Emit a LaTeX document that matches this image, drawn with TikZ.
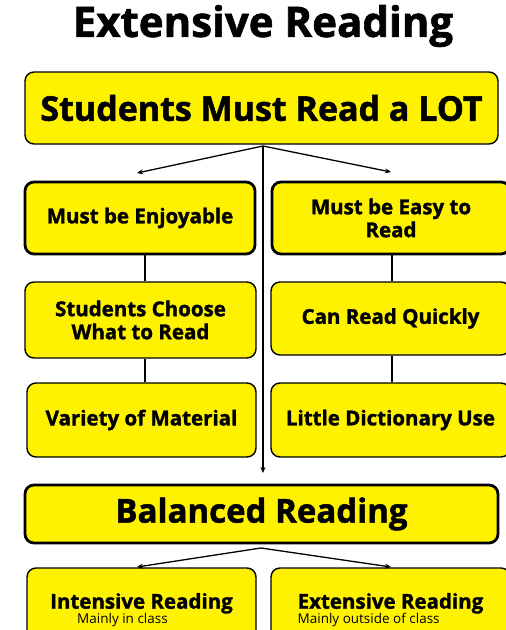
\documentclass[tikz,border=0pt]{standalone}
\usepackage{fontspec}
\setmainfont{Open Sans}[BoldFeatures={FakeBold=1.5}]
\usepackage{tikz}
\usetikzlibrary{arrows.meta}

\begin{document}
\begin{tikzpicture}[x=1pt, y=-1pt, inner sep=2pt]
    \useasboundingbox (0,0) rectangle (506,630);

    \tikzstyle{myBox}=[draw, fill=yellow, rounded corners=9pt, line width=1.4pt, align=center, font=\bfseries\fontsize{20.5}{23}\selectfont];
    \tikzstyle{myBold}=[myBox, line width=2.8pt];
    \tikzstyle{myArr}=[line width=1.3pt, -{Stealth[length=6pt, width=5pt]}];

    \node[font=\bfseries\fontsize{42}{44}\selectfont] (title) at (263,26) {Extensive Reading};

    \node[myBox, minimum width=473, minimum height=72, font=\bfseries\fontsize{34}{36}\selectfont] (top) at (261.5,108) {Students Must Read a LOT};

    \node[myBold, minimum width=230, minimum height=72] (enj) at (140,218) {Must be Enjoyable};
    \node[myBold, minimum width=238, minimum height=72] (easy) at (391,218) {Must be Easy to\\Read};
    \node[myBox, minimum width=231, minimum height=76] (choose) at (140.5,320) {Students Choose\\What to Read};
    \node[myBox, minimum width=239, minimum height=73] (quick) at (390.5,318.5) {Can Read Quickly};
    \node[myBox, minimum width=229, minimum height=74] (variety) at (141.5,420) {Variety of Material};
    \node[myBox, minimum width=239, minimum height=74] (dict) at (390.5,420) {Little Dictionary Use};

    \node[myBold, minimum width=473, minimum height=58, font=\bfseries\fontsize{33}{36}\selectfont] (bal) at (261.5,514) {Balanced Reading};

    \node[myBox, minimum width=229, minimum height=84, align=left] (intens) at (141.5,610) {Intensive Reading\\[-8pt]{\mdseries\fontsize{13.5}{15}\selectfont\qquad Mainly in class}};
    \node[myBox, minimum width=239, minimum height=84, align=left] (extens) at (390.5,610) {Extensive Reading\\[-8pt]{\mdseries\fontsize{13.5}{15}\selectfont Mainly outside of class}};

    % forks
    \coordinate (topfork) at (263,146);
    \coordinate (enjtip) at (137,173);
    \coordinate (easytip) at (391,172);
    \coordinate (baltip) at (263,473);
    \coordinate (balfork) at (261,548);
    \coordinate (intip) at (137,567);
    \coordinate (extip) at (391,567);

    \draw[myArr] (topfork) -- (enjtip);
    \draw[myArr] (topfork) -- (easytip);
    \draw[myArr] (topfork) -- (baltip);
    \draw[myArr] (balfork) -- (intip);
    \draw[myArr] (balfork) -- (extip);

    \draw[line width=1.3pt] (enj.south -| 145,0) -- (choose.north -| 145,0);
    \draw[line width=1.3pt] (choose.south -| 145,0) -- (variety.north -| 145,0);
    \draw[line width=1.3pt] (easy.south -| 392,0) -- (quick.north -| 392,0);
    \draw[line width=1.3pt] (quick.south -| 392,0) -- (dict.north -| 392,0);
\end{tikzpicture}
\end{document}
